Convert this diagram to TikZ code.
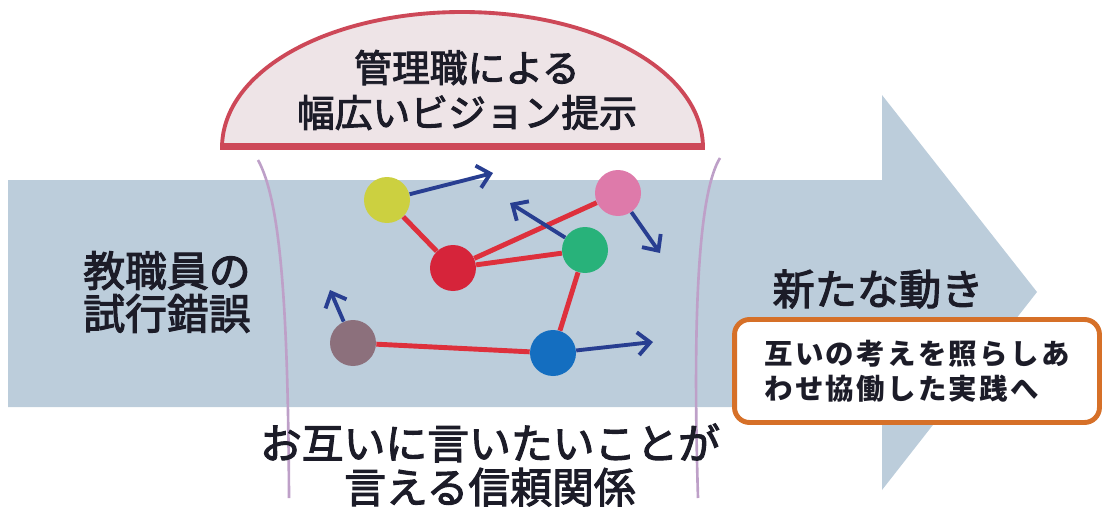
\documentclass[tikz,border=0pt]{standalone}
\usepackage{fontspec}
\newfontfamily\jp{Noto Sans CJK JP}
\newfontfamily\jpmid{Noto Sans CJK JP}[FakeBold=2.6]
\usetikzlibrary{arrows.meta}
\definecolor{flowfill}{RGB}{188,205,219}
\definecolor{domefill}{RGB}{238,228,231}
\definecolor{domeline}{RGB}{205,72,88}
\definecolor{stemline}{RGB}{190,160,200}
\definecolor{linkred}{RGB}{222,48,60}
\definecolor{moveblue}{RGB}{40,62,145}
\definecolor{boxorange}{RGB}{214,112,40}
\definecolor{inkdark}{RGB}{28,28,40}

\begin{document}
\begin{tikzpicture}[x=0.02cm, y=-0.02cm]
    \tikzstyle{member} = [circle,inner sep=0pt,minimum size=0.92cm]
    \tikzstyle{member link} = [draw=linkred, line width=2.8pt]
    \tikzstyle{member move} = [draw=moveblue, line width=2.2pt, -{Straight Barb[length=7pt,width=13pt]}]
    \tikzstyle{stem} = [draw=stemline, line width=1.5pt]
    \tikzstyle{caption} = [text=inkdark, align=center, inner sep=0pt]
\useasboundingbox (0,0) rectangle (1109,514);
% big arrow
\fill[flowfill] (8,180) -- (882,180) -- (882,95) -- (1037,292) -- (882,490) -- (882,407) -- (8,407) -- cycle;
% dome
\filldraw[fill=domefill, draw=domeline, line width=2.2pt] (222,148) .. controls (222,70) and (330,12) .. (462,12) .. controls (594,12) and (703,70) .. (703,148) -- cycle;
\draw[domeline, line width=3.6pt] (222,146) -- (703,146);
\node[caption, font=\jpmid\fontsize{21.5pt}{25.5pt}\selectfont] (vision) at (467,90) {管理職による\\幅広いビジョン提示};
% stems
\draw[stem] (258,160) .. controls (280,200) and (288,300) .. (289,498);
\draw[stem] (720,158) .. controls (700,190) and (692,300) .. (698,498);
% members
\node[member, fill={rgb,255:red,204;green,208;blue,64}] (yellow) at (387,200) {};
\node[member, fill={rgb,255:red,222;green,122;blue,170}] (pink) at (618,193) {};
\node[member, fill={rgb,255:red,40;green,178;blue,122}] (green) at (585,250) {};
\node[member, fill={rgb,255:red,214;green,36;blue,58}] (red) at (453,268) {};
\node[member, fill={rgb,255:red,140;green,112;blue,124}] (gray) at (353,343) {};
\node[member, fill={rgb,255:red,20;green,110;blue,192}] (blue) at (553,353) {};
\coordinate (yellow to) at (493,173);
\coordinate (green to) at (510,203);
\coordinate (pink to) at (660,253);
\coordinate (gray to) at (330,290);
\coordinate (blue to) at (653,342);
\draw[member link] (yellow) to (red);
\draw[member link] (red) to (pink);
\draw[member link] (red) to (green);
\draw[member link] (green) to (blue);
\draw[member link] (gray) to (blue);
\draw[member move] (yellow) to (yellow to);
\draw[member move] (green) to (green to);
\draw[member move] (pink) to (pink to);
\draw[member move] (gray) to (gray to);
\draw[member move] (blue) to (blue to);
% texts
\node[caption, font=\jpmid\fontsize{23.8pt}{24.4pt}\selectfont] (trial) at (167,292) {教職員の\\試行錯誤};
\node[caption, font=\jpmid\fontsize{24pt}{26pt}\selectfont] (newmove) at (878,289) {新たな動き};
\node[caption, font=\jpmid\fontsize{23.8pt}{25pt}\selectfont] (trust) at (490,465) {お互いに言いたいことが\\言える信頼関係};
\node[draw=boxorange, fill=white, line width=2.8pt, rounded corners=0.3cm, minimum width=7.3cm, minimum height=2.06cm, align=left, text=inkdark, font=\jp\bfseries\fontsize{16.2pt}{19.8pt}\selectfont\addfontfeature{LetterSpace=8}] (practice) at (917,371) {互いの考えを照らしあ\\わせ協働した実践へ};
\end{tikzpicture}
\end{document}
